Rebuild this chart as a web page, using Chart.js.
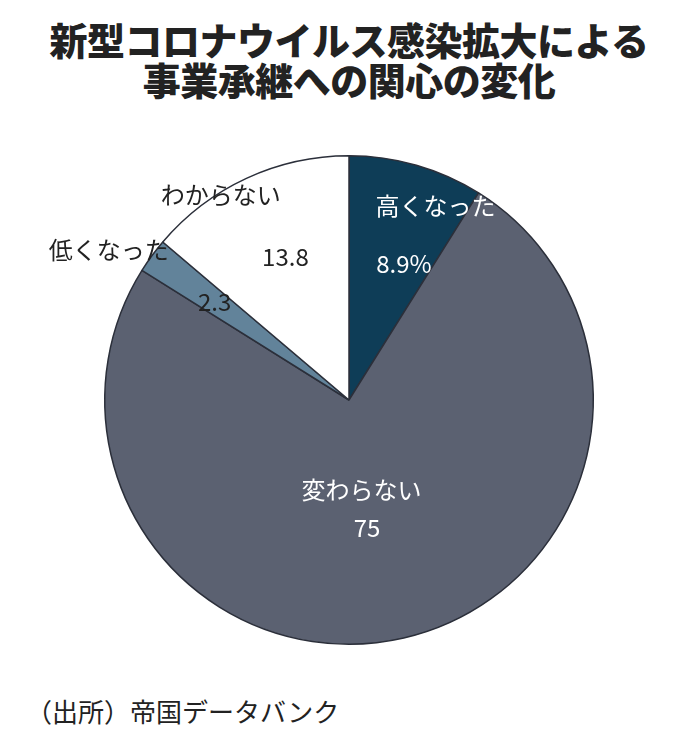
<!DOCTYPE html>
<html><head><meta charset="utf-8">
<script src="https://cdn.jsdelivr.net/npm/chart.js@4"></script>
<style>
body{margin:0;width:698px;height:739px;background:#fff;font-family:"Noto Sans CJK JP";position:relative;overflow:hidden}
#title{position:absolute;top:19px;left:0;width:698px;text-align:center;font-weight:900;font-size:38px;line-height:40px;color:#222;letter-spacing:-0.5px}
#src{position:absolute;left:26px;top:692px;font-size:26px;color:#222}
#wrap{position:absolute;left:0;top:150px;width:698px;height:500px}
</style></head><body>
<div id="title">新型コロナウイルス感染拡大による<br>事業承継への関心の変化</div>
<div id="wrap"><canvas id="c"></canvas></div>
<div id="src">（出所）帝国データバンク</div>
<script>
// slices, clockwise from top
var categories = ["高くなった", "変わらない", "低くなった", "わからない"];
var values = [8.9, 75, 2.3, 13.8];
var valueLabels = ["8.9%", "75", "2.3", "13.8"];

var colors = ["#0e3d57", "#5b6171", "#62839a", "#ffffff"];
// label placement: [angle deg from top, radius fraction] for name and value
var namePos = [[24, 0.87], [172, 0.37], [302, 1.16], [328, 0.99]];
var valuePos = [[22, 0.6], [172, 0.53], [306, 0.68], [336, 0.64]];
var textColors = ["#fff", "#fff", "#222", "#222"];

var labelPlugin = {
    id: "pielabels",
    afterDatasetsDraw: function(chart) {
        var ctx = chart.ctx;
        var arc = chart.getDatasetMeta(0).data[0];
        var cx = arc.x, cy = arc.y, r = arc.outerRadius;
        ctx.save();
        ctx.font = '24px "Noto Sans CJK JP"';
        ctx.textAlign = "center";
        ctx.textBaseline = "middle";
        function put(txt, p, col) {
            var a = p[0] * Math.PI / 180;
            ctx.fillStyle = col;
            ctx.fillText(txt, cx + Math.sin(a) * r * p[1], cy - Math.cos(a) * r * p[1]);
        }
        categories.forEach(function(cat, i) {
            put(cat, namePos[i], i == 2 ? "#222" : textColors[i]);
            put(valueLabels[i], valuePos[i], textColors[i]);
        });
        ctx.restore();
    }
};

new Chart(document.getElementById("c"), {
    type: "pie",
    data: {
        labels: categories,
        datasets: [{
            data: values,
            backgroundColor: colors,
            borderColor: "#2b2f3a",
            borderWidth: 1.5
        }]
    },
    options: {
        responsive: true,
        maintainAspectRatio: false,
        animation: false,
        layout: {padding: 5},
        plugins: {legend: {display: false}, tooltip: {enabled: false}}
    },
    plugins: [labelPlugin]
});
</script>
</body></html>
